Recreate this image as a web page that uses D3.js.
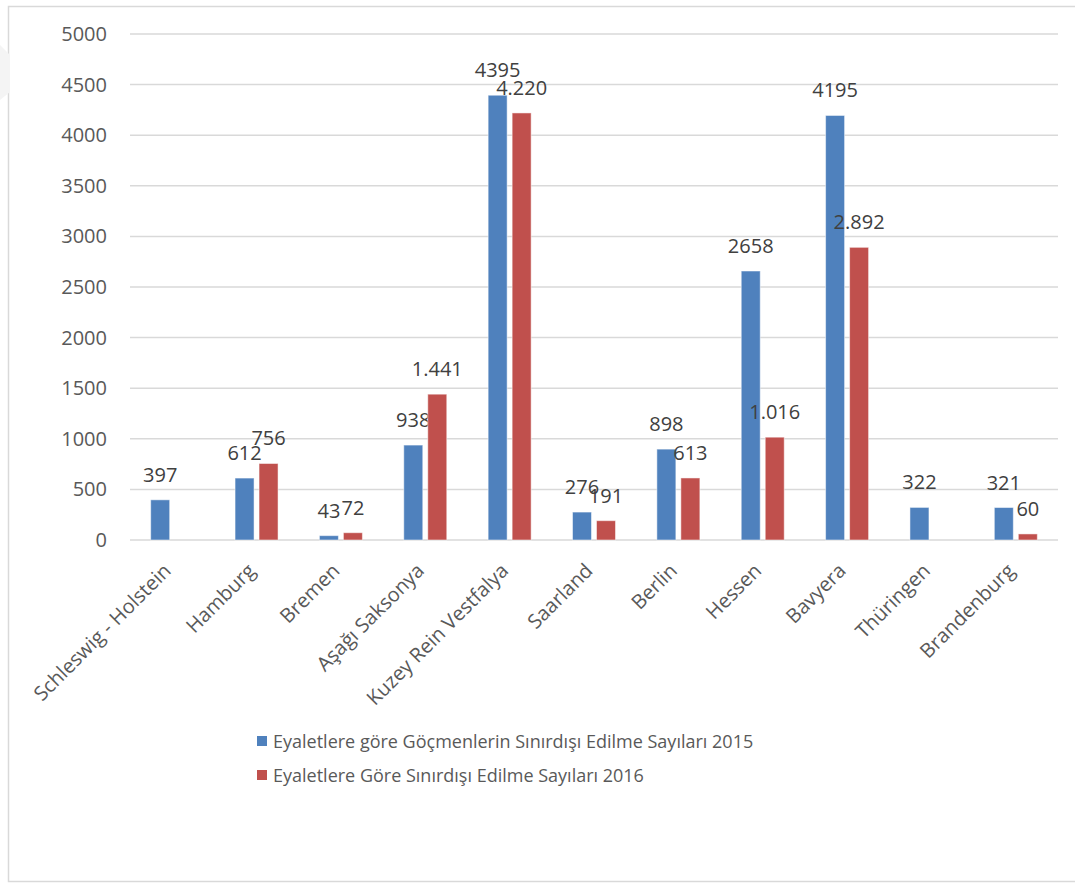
<!DOCTYPE html>
<html>
<head>
<meta charset="utf-8">
<script src="https://cdn.jsdelivr.net/npm/d3@7"></script>
<style>
body{margin:0;background:#fff;}
svg{display:block;font-family:"Open Sans",sans-serif;}
</style>
</head>
<body>
<div id="chart"></div>
<script>
const categories = ['Schleswig - Holstein','Hamburg','Bremen','Aşağı Saksonya','Kuzey Rein Vestfalya','Saarland','Berlin','Hessen','Bavyera','Thüringen','Brandenburg'];
const values2015 = [397,612,43,938,4395,276,898,2658,4195,322,321];
const values2016 = [null,756,72,1441,4220,191,613,1016,2892,null,60];
const labels2015 = ['397','612','43','938','4395','276','898','2658','4195','322','321'];
const labels2016 = ['','756','72','1.441','4.220','191','613','1.016','2.892','','60'];
const seriesNames = ['Eyaletlere göre Göçmenlerin Sınırdışı Edilme Sayıları 2015','Eyaletlere Göre Sınırdışı Edilme Sayıları 2016'];
const seriesColors = ['#4F81BD','#C0504D'];
const yTicks = [0,500,1000,1500,2000,2500,3000,3500,4000,4500,5000];

const W = 1075, H = 883;
const svg = d3.select('#chart').append('svg').attr('width', W).attr('height', H);

// frame + faint mark top left
svg.append('rect').attr('x',8.5).attr('y',6.5).attr('width',1080).attr('height',875)
   .attr('fill','none').attr('stroke','#d9d9d9').attr('stroke-width',1.5);
svg.append('path').attr('d','M0,45 L10,55 L10,92 L0,100 Z').attr('fill','#f4f4f4');

const x = d3.scaleBand().domain(categories).range([130,1058]);
const sub = d3.scaleBand().domain([0,1]).range([-21.5,21.5]).paddingInner(5/24);
const y = d3.scaleLinear().domain([0,5000]).range([540,34]);

// gridlines
svg.append('g').selectAll('line').data(yTicks).join('line')
   .attr('x1',130).attr('x2',1058)
   .attr('y1',d=>y(d)).attr('y2',d=>y(d))
   .attr('stroke','#d9d9d9').attr('stroke-width',1.5);

// y axis labels
const yAxis = svg.append('g').attr('transform','translate(118,0)')
   .call(d3.axisLeft(y).tickValues(yTicks).tickSize(0).tickPadding(11).tickFormat(d3.format('d')));
yAxis.select('.domain').remove();
yAxis.selectAll('text').attr('font-size',20).attr('fill','#595959').attr('font-family','"Open Sans",sans-serif');

const series = [
  {vals:values2015, labels:labels2015},
  {vals:values2016, labels:labels2016}
];

series.forEach((s,si)=>{
  const rows = categories.map((c,i)=>({c, v:s.vals[i], t:s.labels[i]})).filter(d=>d.v!=null);
  svg.append('g').selectAll('rect').data(rows).join('rect')
     .attr('x',d=>x(d.c)+x.bandwidth()/2+sub(si))
     .attr('width',sub.bandwidth())
     .attr('y',d=>y(d.v))
     .attr('height',d=>y(0)-y(d.v))
     .attr('fill',seriesColors[si])
     .attr('stroke','#ffffff').attr('stroke-opacity',0.5).attr('stroke-width',1);
  svg.append('g').selectAll('text').data(rows).join('text')
     .attr('x',d=>x(d.c)+x.bandwidth()/2+sub(si)+sub.bandwidth()/2)
     .attr('y',d=>y(d.v)-18)
     .attr('text-anchor','middle')
     .attr('font-size',20).attr('fill','#404040')
     .text(d=>d.t);
});

// category labels
svg.append('g').selectAll('text').data(categories).join('text')
   .attr('transform',d=>`translate(${x(d)+x.bandwidth()/2},572) rotate(-45)`)
   .attr('text-anchor','end')
   .attr('font-size',20).attr('fill','#595959')
   .text(d=>d);

// legend
const leg = svg.append('g').selectAll('g').data(seriesNames).join('g')
   .attr('transform',(d,i)=>`translate(257,${736+i*34})`);
leg.append('rect').attr('width',10).attr('height',10).attr('fill',(d,i)=>seriesColors[i]);
leg.append('text').attr('x',16).attr('y',12).attr('font-size',18).attr('fill','#595959').text(d=>d);
</script>
</body>
</html>
